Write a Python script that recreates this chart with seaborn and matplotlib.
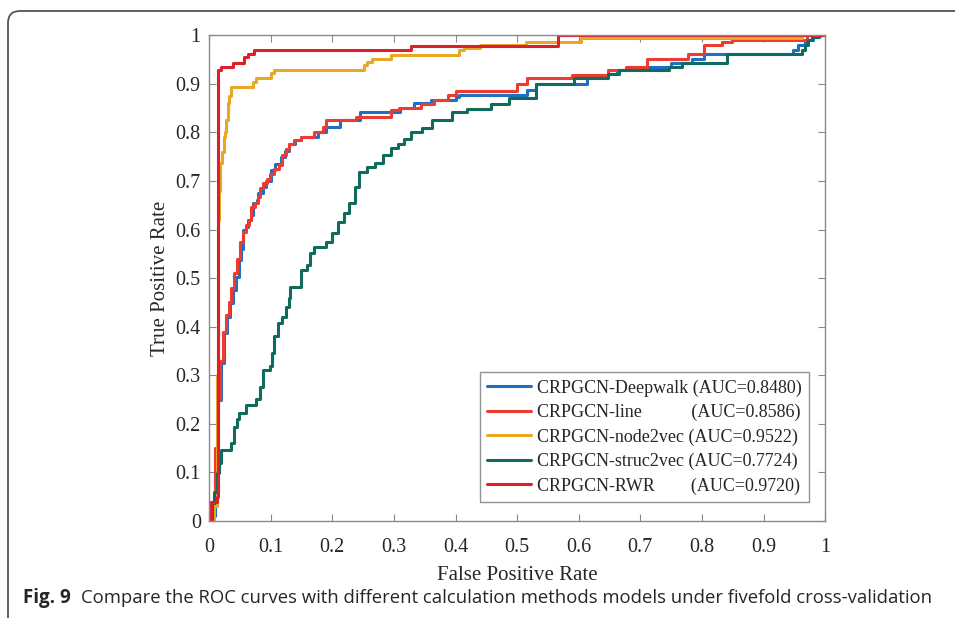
import matplotlib
matplotlib.use("Agg")
import matplotlib.pyplot as plt
import seaborn as sns
from matplotlib.patches import FancyBboxPatch

# ROC step points (fpr where the curve jumps, tpr after the jump)
deepwalk_fpr = [0, 0.005, 0.009, 0.011, 0.015, 0.019, 0.024, 0.029, 0.034, 0.038, 0.044, 0.049, 0.052,
                0.055, 0.060, 0.063, 0.068, 0.071, 0.078, 0.080, 0.087, 0.092, 0.100, 0.107, 0.117, 0.123,
                0.130, 0.140, 0.149, 0.177, 0.190, 0.213, 0.245, 0.310, 0.333, 0.360, 0.400, 0.405, 0.516,
                0.530, 0.614, 0.648, 0.662, 0.689, 0.749, 0.784, 0.803, 0.948, 0.956, 0.968, 0.981, 0.992, 1.0]
deepwalk_tpr = [0, 0.010, 0.040, 0.146, 0.249, 0.325, 0.386, 0.420, 0.448, 0.475, 0.503, 0.537, 0.560,
                0.600, 0.606, 0.620, 0.630, 0.654, 0.660, 0.675, 0.688, 0.700, 0.722, 0.735, 0.750, 0.762,
                0.777, 0.785, 0.791, 0.801, 0.811, 0.825, 0.842, 0.850, 0.860, 0.866, 0.873, 0.877, 0.887,
                0.900, 0.914, 0.921, 0.928, 0.935, 0.942, 0.952, 0.962, 0.969, 0.979, 0.990, 0.998, 1.0, 1.0]

line_fpr = [0, 0.003, 0.008, 0.010, 0.014, 0.018, 0.023, 0.027, 0.032, 0.036, 0.041, 0.046, 0.050,
            0.055, 0.060, 0.065, 0.068, 0.075, 0.079, 0.083, 0.087, 0.094, 0.098, 0.106, 0.114, 0.119,
            0.125, 0.130, 0.137, 0.149, 0.170, 0.185, 0.190, 0.238, 0.295, 0.308, 0.344, 0.365, 0.387,
            0.400, 0.500, 0.516, 0.589, 0.648, 0.676, 0.711, 0.778, 0.803, 0.832, 0.849, 0.970, 1.0]
line_tpr = [0, 0.040, 0.050, 0.150, 0.250, 0.330, 0.390, 0.425, 0.450, 0.480, 0.510, 0.540, 0.575,
            0.595, 0.610, 0.619, 0.647, 0.655, 0.667, 0.685, 0.695, 0.705, 0.715, 0.725, 0.733, 0.753,
            0.765, 0.777, 0.785, 0.791, 0.800, 0.812, 0.825, 0.832, 0.846, 0.851, 0.858, 0.866, 0.877,
            0.885, 0.900, 0.911, 0.918, 0.928, 0.935, 0.952, 0.962, 0.979, 0.986, 0.991, 1.0, 1.0]

node2vec_fpr = [0, 0.008, 0.012, 0.014, 0.016, 0.018, 0.021, 0.024, 0.026, 0.028, 0.031, 0.033, 0.036,
                0.071, 0.076, 0.100, 0.105, 0.251, 0.257, 0.265, 0.295, 0.405, 0.413, 0.440, 0.514, 0.603,
                0.962, 1.0]
node2vec_tpr = [0, 0.030, 0.300, 0.620, 0.680, 0.737, 0.760, 0.790, 0.800, 0.825, 0.860, 0.875, 0.894,
                0.904, 0.911, 0.922, 0.928, 0.938, 0.945, 0.952, 0.960, 0.969, 0.974, 0.979, 0.986, 0.995,
                1.0, 1.0]

struc2vec_fpr = [0, 0.005, 0.008, 0.012, 0.016, 0.020, 0.036, 0.041, 0.045, 0.049, 0.060, 0.076, 0.083,
                 0.087, 0.098, 0.102, 0.106, 0.111, 0.118, 0.125, 0.130, 0.132, 0.149, 0.159, 0.163, 0.171,
                 0.190, 0.200, 0.209, 0.219, 0.227, 0.236, 0.244, 0.257, 0.270, 0.282, 0.295, 0.306, 0.317,
                 0.327, 0.346, 0.362, 0.395, 0.419, 0.457, 0.487, 0.530, 0.592, 0.648, 0.665, 0.746, 0.767,
                 0.840, 0.962, 0.968, 0.973, 0.978, 0.990, 1.0]
struc2vec_tpr = [0, 0.036, 0.060, 0.098, 0.120, 0.146, 0.160, 0.194, 0.210, 0.222, 0.239, 0.252, 0.276,
                 0.311, 0.320, 0.345, 0.380, 0.407, 0.420, 0.441, 0.460, 0.482, 0.516, 0.527, 0.551, 0.564,
                 0.575, 0.592, 0.616, 0.633, 0.654, 0.688, 0.719, 0.729, 0.736, 0.753, 0.767, 0.776, 0.787,
                 0.801, 0.808, 0.825, 0.842, 0.849, 0.859, 0.870, 0.900, 0.911, 0.921, 0.928, 0.935, 0.943,
                 0.962, 0.969, 0.979, 0.990, 0.997, 1.0, 1.0]

rwr_fpr = [0, 0.003, 0.012, 0.014, 0.019, 0.038, 0.057, 0.063, 0.073, 0.327, 0.567, 1.0]
rwr_tpr = [0, 0.040, 0.050, 0.928, 0.935, 0.943, 0.955, 0.962, 0.969, 0.978, 1.0, 1.0]

labels = ["CRPGCN-Deepwalk (AUC=0.8480)",
          "CRPGCN-line           (AUC=0.8586)",
          "CRPGCN-node2vec (AUC=0.9522)",
          "CRPGCN-struc2vec (AUC=0.7724)",
          "CRPGCN-RWR        (AUC=0.9720)"]
colors = ["#1F6FC5", "#EE3B2F", "#E8A824", "#0F6B5C", "#DF1F28"]
curves = [(deepwalk_fpr, deepwalk_tpr), (line_fpr, line_tpr), (node2vec_fpr, node2vec_tpr),
          (struc2vec_fpr, struc2vec_tpr), (rwr_fpr, rwr_tpr)]

tick_vals = [0, 0.1, 0.2, 0.3, 0.4, 0.5, 0.6, 0.7, 0.8, 0.9, 1]
tick_labels = ["0", "0.1", "0.2", "0.3", "0.4", "0.5", "0.6", "0.7", "0.8", "0.9", "1"]

sns.set_theme(style="ticks")
plt.rcParams["font.family"] = ["Liberation Serif", "DejaVu Serif"]

fig = plt.figure(figsize=(9.55, 6.18), dpi=100)
ax = fig.add_axes([0.219, 0.157, 0.645, 0.786])

for (fx, ty), lab, col in zip(curves, labels, colors):
    sns.lineplot(x=fx, y=ty, ax=ax, estimator=None, sort=False, drawstyle="steps-post",
                 color=col, lw=2.2, label=lab)

ax.set_xlim(0, 1)
ax.set_ylim(0, 1)
ax.set_xticks(tick_vals)
ax.set_xticklabels(tick_labels)
ax.set_yticks(tick_vals)
ax.set_yticklabels(tick_labels)
ax.tick_params(direction="in", length=5, width=0.8, color="#888888", labelsize=14.5,
               top=True, right=True, pad=6)
ax.tick_params(axis="x", pad=12)
for sp in ax.spines.values():
    sp.set_visible(True)
    sp.set_color("#8a8a8a")
    sp.set_linewidth(1.0)

ax.set_xlabel("False Positive Rate", fontsize=15, labelpad=7)
ax.set_ylabel("True Positive Rate", fontsize=15, labelpad=4)

leg = ax.legend(loc="lower right", bbox_to_anchor=(0.974, 0.039), borderaxespad=0, fontsize=13,
                frameon=True, fancybox=False, edgecolor="#777777", handlelength=2.4,
                borderpad=0.4, labelspacing=0.4, handletextpad=0.35)
leg.get_frame().set_linewidth(1.0)
for h in leg.get_lines():
    h.set_linewidth(2.2)

# panel border with rounded corner
border = FancyBboxPatch((8, -30), 1000, 607 + 30, boxstyle="round,pad=0,rounding_size=12",
                        transform=None, fill=False, ec="#555555", lw=1.3)
fig.add_artist(border)

# caption
t1 = fig.text(23 / 955, 1 - 598 / 618, "Fig. 9", fontsize=13.5, fontweight="bold",
              family="Open Sans", va="center", ha="left")
fig.canvas.draw()
bb = t1.get_window_extent()
fig.text((bb.x1 + 10) / 955, 1 - 598 / 618,
         "Compare the ROC curves with different calculation methods models under fivefold cross-validation",
         fontsize=13.3, family="Open Sans", va="center", ha="left")

fig.savefig("out.png", dpi=100)
